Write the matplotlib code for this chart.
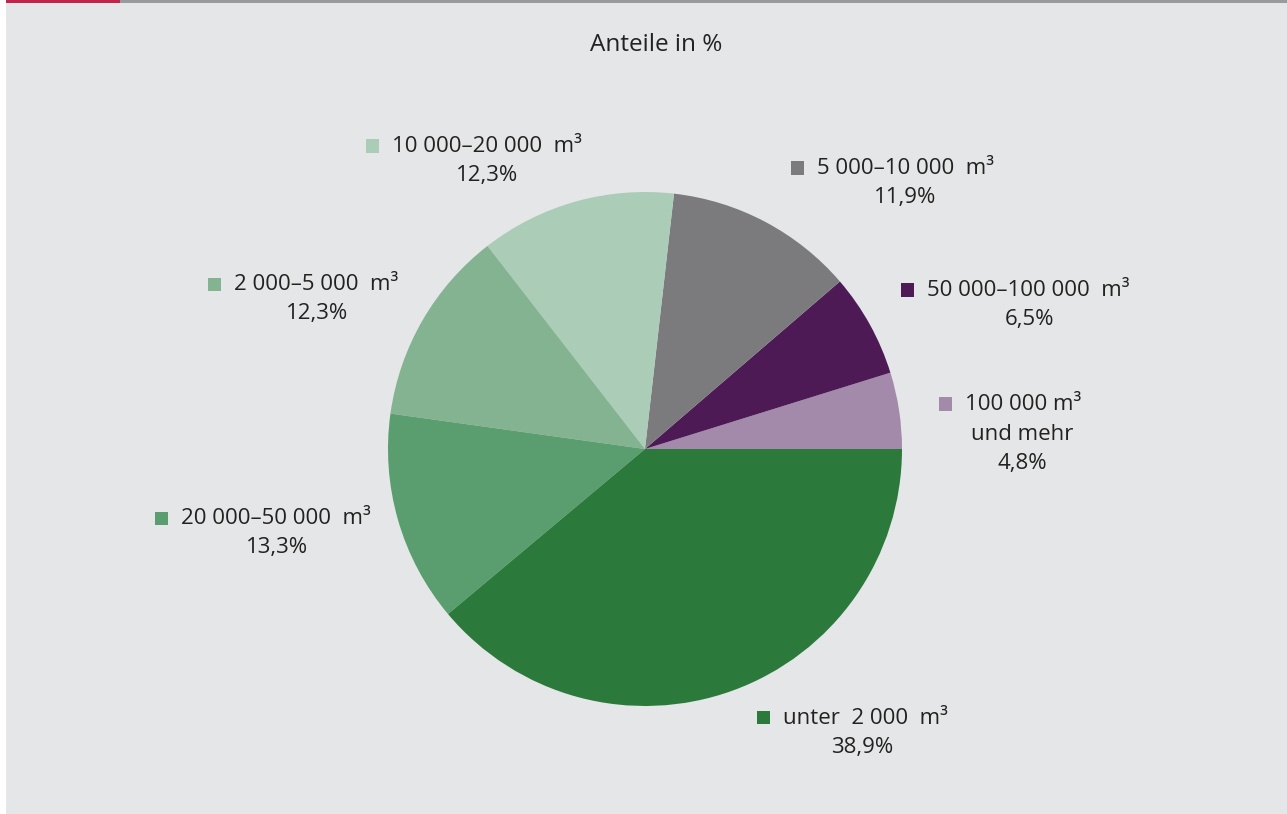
import matplotlib
matplotlib.use("Agg")
import matplotlib.pyplot as plt
from matplotlib.patches import Rectangle

# Shares by size class, counter-clockwise from 3 o'clock
categories = [
    "100 000 m³",
    "50 000–100 000  m³",
    "5 000–10 000  m³",
    "10 000–20 000  m³",
    "2 000–5 000  m³",
    "20 000–50 000  m³",
    "unter  2 000  m³",
]
shares = [4.8, 6.5, 11.9, 12.3, 12.3, 13.3, 38.9]
pct_labels = ["4,8%", "6,5%", "11,9%", "12,3%", "12,3%", "13,3%", "38,9%"]
colors = ["#a38aab", "#4d1a56", "#7b7b7e", "#abcdb7", "#84b391", "#5a9e6f", "#2b7a3c"]

W, H = 1287, 814
BG = "#e5e6e8"
TXT = "#222222"
FONT = "Open Sans"
FS = 16

fig = plt.figure(figsize=(W / 100, H / 100), dpi=100)
fig.patch.set_facecolor("white")

def fx(x):
    return x / W

def fy(y):
    return 1 - y / H

# panel background and top rule
fig.patches.append(Rectangle((fx(6), 0), 1 - fx(6), 1, transform=fig.transFigure,
                             facecolor=BG, edgecolor="none", zorder=-2))
fig.patches.append(Rectangle((fx(120), fy(3)), 1 - fx(120), 3 / H, transform=fig.transFigure,
                             facecolor="#999a9c", edgecolor="none", zorder=-1))
fig.patches.append(Rectangle((fx(6), fy(3)), fx(114), 3 / H, transform=fig.transFigure,
                             facecolor="#c0264b", edgecolor="none", zorder=-1))

# pie
cx, cy, r = 645, 449, 257
ax = fig.add_axes([fx(cx - r), fy(cy + r), 2 * r / W, 2 * r / H], zorder=1)
ax.pie(shares, colors=colors, startangle=0, counterclock=True,
       wedgeprops=dict(linewidth=0))
ax.set_aspect("equal")
ax.set_xlim(-1, 1)
ax.set_ylim(-1, 1)
ax.axis("off")

fig.text(fx(656), fy(45), "Anteile in %", ha="center", va="center",
         fontsize=17.5, color=TXT, family=FONT)

# label layout: (square left x, line y, percent centre x, percent y)
layout = [
    (939, 405, 1022, 463),
    (901, 291, 1030, 319),
    (791, 169, 905, 198),
    (366, 147, 487, 176),
    (208, 285, 317, 314),
    (155, 519, 277, 548),
    (757, 718, 862, 747),
]

sq = 13
for cat, pct, col, (sx, ly, px, py) in zip(categories, pct_labels, colors, layout):
    fig.patches.append(Rectangle((fx(sx), fy(ly - 1 + sq / 2)), sq / W, sq / H,
                                 transform=fig.transFigure, facecolor=col,
                                 edgecolor="none", zorder=2))
    fig.text(fx(sx + 26), fy(ly), cat, ha="left", va="center",
             fontsize=FS, color=TXT, family=FONT)
    fig.text(fx(px), fy(py), pct, ha="center", va="center",
             fontsize=FS, color=TXT, family=FONT)

fig.text(fx(1022), fy(434), "und mehr", ha="center", va="center",
         fontsize=FS, color=TXT, family=FONT)

fig.savefig("out.png", dpi=100, facecolor=fig.get_facecolor())
